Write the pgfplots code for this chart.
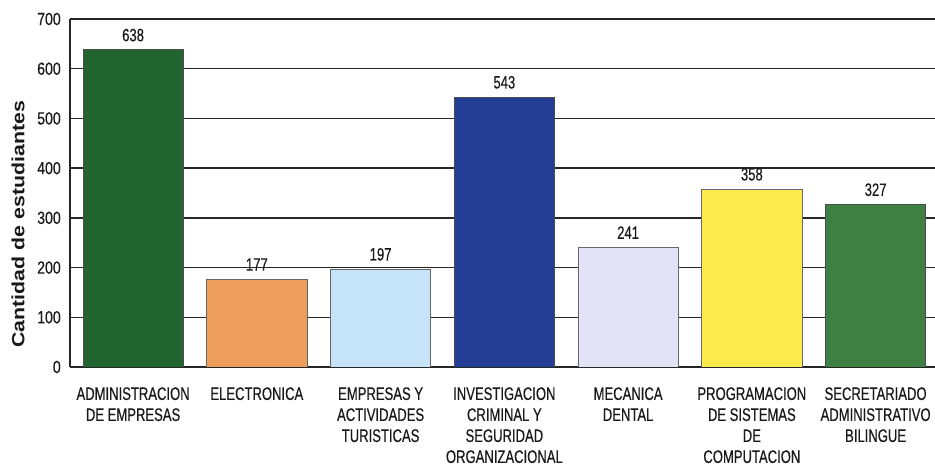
\documentclass[border=0pt]{standalone}
\usepackage{graphicx}
\usepackage{fontspec}
\setmainfont{Liberation Sans}
\newfontfamily\tickfont[FakeStretch=0.8, FakeBold=0.4]{Liberation Sans}
\newfontfamily\catfont[FakeStretch=0.72, FakeBold=0.4]{Liberation Sans}
\newfontfamily\valfont[FakeStretch=0.73, FakeBold=0.4]{Liberation Sans}
\usepackage{pgfplots}
\pgfplotsset{compat=1.18}

\definecolor{cadm}{HTML}{21642F}
\definecolor{celec}{HTML}{EE9E5C}
\definecolor{cemp}{HTML}{C6E4F8}
\definecolor{cinv}{HTML}{233E94}
\definecolor{cmec}{HTML}{E2E3F6}
\definecolor{cprog}{HTML}{FCEA4C}
\definecolor{csec}{HTML}{3E8041}

\begin{document}
\begin{tikzpicture}
\useasboundingbox (-52.5pt,-77.25pt) rectangle (648.75pt,275.25pt);
\begin{axis}[
  at={(0,0)}, anchor=south west,
  scale only axis, width=648.75pt, height=261pt,
  xmin=-0.51, xmax=6.48, ymin=0, ymax=700,
  ytick={0,100,...,700},
  xtick={0,...,6},
  xticklabels={{ADMINISTRACION\\DE EMPRESAS}, ELECTRONICA,
    {EMPRESAS Y\\ACTIVIDADES\\TURISTICAS},
    {INVESTIGACION\\CRIMINAL Y\\SEGURIDAD\\ORGANIZACIONAL},
    {MECANICA\\DENTAL},
    {PROGRAMACION\\DE SISTEMAS\\DE\\COMPUTACION},
    {SECRETARIADO\\ADMINISTRATIVO\\BILINGUE}},
  axis x line*=bottom, axis y line*=left,
  axis line style={-, line width=1pt, color=black!85},
  ymajorgrids, grid style={line width=1pt, color=black!85},
  major tick length=0pt,
  /pgf/number format/assume math mode=true,
  yticklabel style={font=\tickfont\fontsize{13.2}{14}\selectfont, anchor=east, inner sep=0pt, xshift=-6.75pt, text=black!90},
  xticklabel style={font=\catfont\fontsize{13.6}{15.75}\selectfont, align=center, anchor=north, inner sep=0pt, yshift=-15pt, text=black!90},
  ylabel={\scalebox{1}[0.83]{\bfseries Cantidad de estudiantes}},
  ylabel style={font=\fontsize{16}{18}\selectfont, at={(axis description cs:-0.0601,0.41)}, anchor=center, text=black!90},
  ybar, bar width=0.81, bar shift=0pt,
  every axis plot/.append style={draw=black!60, line width=0.6pt},
  nodes near coords,
  nodes near coords style={font=\valfont\fontsize{13.4}{14}\selectfont, inner sep=0pt, yshift=6pt, text=black!90},
]
\addplot[fill=cadm, draw=black!70] coordinates {(0,638)};
\addplot[fill=celec] coordinates {(1,177)};
\addplot[fill=cemp] coordinates {(2,197)};
\addplot[fill=cinv, draw=black!70] coordinates {(3,543)};
\addplot[fill=cmec] coordinates {(4,241)};
\addplot[fill=cprog] coordinates {(5,358)};
\addplot[fill=csec, draw=black!70] coordinates {(6,327)};
\end{axis}
\end{tikzpicture}
\end{document}
